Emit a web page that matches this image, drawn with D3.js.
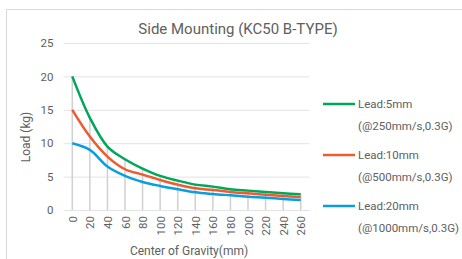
<!DOCTYPE html>
<html>
<head>
<meta charset="utf-8">
<script src="https://cdn.jsdelivr.net/npm/d3@7"></script>
<style>
  body { margin: 0; background: #fff; }
  svg { display: block; font-family: Roboto, "Noto Sans", sans-serif; }
</style>
</head>
<body>
<div id="chart_div"></div>
<script>
// chart values
var categories = [0, 20, 40, 60, 80, 100, 120, 140, 160, 180, 200, 220, 240, 260];
var lead5  = [20, 13.8, 9.5, 7.6, 6.2, 5.1, 4.4, 3.8, 3.5, 3.1, 2.9, 2.7, 2.5, 2.35];
var lead10 = [15, 11, 8.0, 6.1, 5.3, 4.5, 3.8, 3.25, 3.0, 2.7, 2.5, 2.3, 2.1, 1.95];
var lead20 = [10, 9.0, 6.5, 5.1, 4.2, 3.6, 3.1, 2.65, 2.4, 2.2, 2.0, 1.85, 1.65, 1.5];
var yTicks = [0, 5, 10, 15, 20, 25];
var seriesNames = ["Lead:5mm", "Lead:10mm", "Lead:20mm"];
var seriesNotes = ["(@250mm/s,0.3G)", "(@500mm/s,0.3G)", "(@1000mm/s,0.3G)"];

function draw_chart(){
  var W = 462, H = 259;
  var plot = {left: 63.5, right: 309.5, top: 43, bottom: 210};
  var textColor = "#606060";

  var svg = d3.select("#chart_div").append("svg")
    .attr("width", W).attr("height", H);

  // outer chart border
  svg.append("rect")
    .attr("x", 6.5).attr("y", 9.5)
    .attr("width", 480).attr("height", 280)
    .style("fill", "none").style("stroke", "#d9d9d9");

  var xScale = d3.scalePoint().domain(categories).range([plot.left, plot.right]).padding(0.5);
  var yScale = d3.scaleLinear().domain([0, 25]).range([plot.bottom, plot.top]);

  // horizontal grid
  var yAxis = svg.append("g")
    .attr("class", "yaxis")
    .attr("transform", "translate(" + plot.left + ",0)")
    .call(d3.axisLeft(yScale).tickValues(yTicks).tickSize(-(plot.right - plot.left)).tickPadding(10));
  yAxis.select("path.domain").style("stroke", "none");
  yAxis.selectAll(".tick line").style("stroke", "#e3e3e3");
  yAxis.selectAll(".tick text")
    .style("fill", textColor).style("font-size", "11.5px")
    .style("font-family", "Roboto, sans-serif");

  // drop lines from the highest series down to the axis
  var series = [lead5, lead10, lead20];
  svg.selectAll("line.drop")
    .data(categories)
    .enter().append("line")
    .attr("class", "drop")
    .attr("x1", function(d){ return xScale(d); })
    .attr("x2", function(d){ return xScale(d); })
    .attr("y1", yScale(0))
    .attr("y2", function(d, i){ return yScale(d3.max(series, function(s){ return s[i]; })); })
    .style("stroke", "#d0d0d0").style("stroke-width", "1.5px");

  // x axis labels (rotated)
  var xAxis = svg.append("g")
    .attr("class", "xaxis")
    .attr("transform", "translate(0," + plot.bottom + ")")
    .call(d3.axisBottom(xScale).tickSize(0).tickPadding(0));
  xAxis.select("path.domain").style("stroke", "none");
  xAxis.selectAll(".tick text")
    .attr("transform", "rotate(-90)")
    .attr("x", -6).attr("y", 0).attr("dy", "0.35em")
    .style("text-anchor", "end")
    .style("fill", textColor).style("font-size", "11.5px")
    .style("font-family", "Roboto, sans-serif");

  var colors = ["#00a65a", "#ef5a2f", "#0a9de0"];

  series.forEach(function(vals, k){
    var line = d3.line()
      .x(function(d, i){ return xScale(categories[i]); })
      .y(function(d){ return yScale(d); })
      .curve(d3.curveCatmullRom.alpha(0.5));
    svg.append("path")
      .datum(vals)
      .attr("d", line)
      .style("fill", "none")
      .style("stroke", colors[k])
      .style("stroke-width", "2.5px")
      .style("stroke-linejoin", "round");
  });

  // title
  svg.append("text")
    .attr("x", 238).attr("y", 29).attr("dy", "0.35em")
    .attr("text-anchor", "middle")
    .style("font-size", "15px").style("fill", textColor)
    .text("Side Mounting (KC50 B-TYPE)");

  // axis titles
  svg.append("text")
    .attr("transform", "translate(26,137) rotate(-90)")
    .attr("dy", "0.35em")
    .attr("text-anchor", "middle")
    .style("font-size", "12px").style("fill", textColor)
    .text("Load (kg)");

  svg.append("text")
    .attr("x", 189).attr("y", 251).attr("dy", "0.35em")
    .attr("text-anchor", "middle")
    .style("font-size", "12px").style("fill", textColor)
    .text("Center of Gravity(mm)");

  // legend
  var legendY = [104, 155, 206];
  var legend = svg.selectAll("g.legend")
    .data(seriesNames)
    .enter().append("g")
    .attr("class", "legend")
    .attr("transform", function(d, i){ return "translate(323," + legendY[i] + ")"; });
  legend.append("line")
    .attr("x1", 0).attr("x2", 32).attr("y1", 0).attr("y2", 0)
    .style("stroke", function(d, i){ return colors[i]; })
    .style("stroke-width", "2.5px");
  legend.append("text")
    .attr("x", 35).attr("y", 0).attr("dy", "0.35em")
    .style("font-size", "11.5px").style("fill", textColor)
    .text(function(d){ return d; });
  legend.append("text")
    .attr("x", 35).attr("y", 22).attr("dy", "0.35em")
    .style("font-size", "11.5px").style("fill", textColor)
    .text(function(d, i){ return seriesNotes[i]; });
}

draw_chart();
</script>
</body>
</html>
